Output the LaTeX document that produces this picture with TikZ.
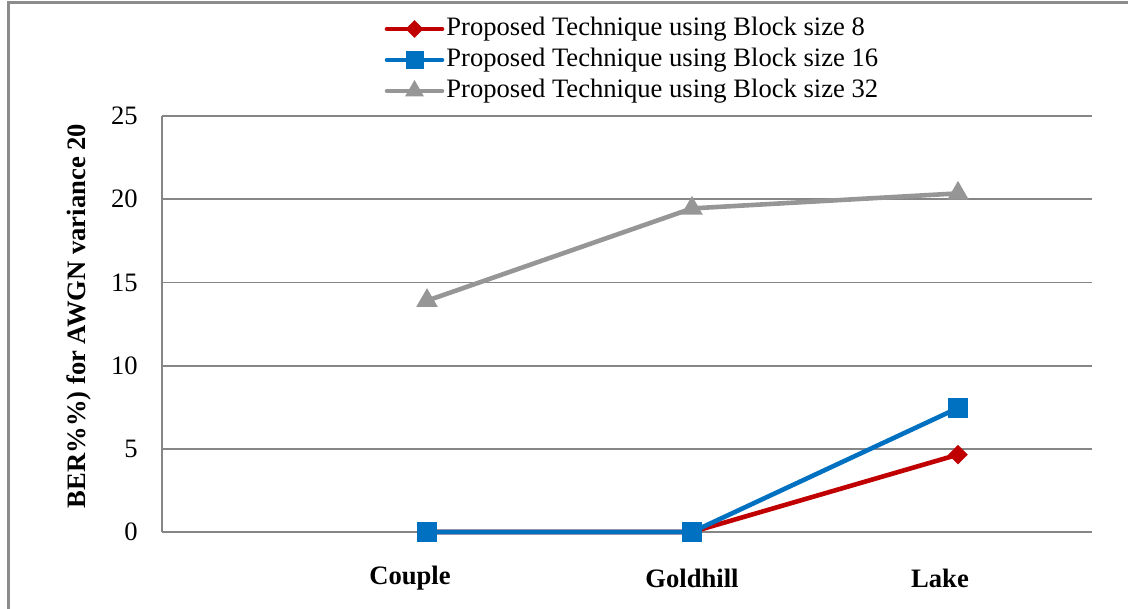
\documentclass[tikz,border=0pt]{standalone}
\usepackage{fontspec}
\setmainfont{Liberation Serif}
\usetikzlibrary{shapes.geometric}
\definecolor{serred}{RGB}{192,0,0}
\definecolor{serblue}{RGB}{0,112,192}
\definecolor{sergray}{RGB}{150,150,150}
\definecolor{gridgray}{RGB}{134,134,134}
\definecolor{framegray}{RGB}{140,140,140}
\tikzset{
  gridline/.style={gridgray, line width=0.9pt},
  serline/.style={line width=2.3pt, line join=round, line cap=round},
  mkdiamond/.style={diamond, fill=serred, inner sep=0pt, minimum size=10pt},
  mksquare/.style={rectangle, fill=serblue, inner sep=0pt, minimum size=10pt},
  mktri/.style={regular polygon, regular polygon sides=3, fill=sergray, inner sep=0pt, minimum size=12.5pt},
  legdiamond/.style={mkdiamond, minimum size=9pt},
  legsquare/.style={mksquare, minimum size=9pt},
  legtri/.style={mktri, minimum size=11pt},
  ticklabel/.style={anchor=east, inner sep=0pt},
  catlabel/.style={font=\fontsize{13.3pt}{16pt}\selectfont\bfseries},
  legtext/.style={anchor=west, inner sep=0pt},
}
\begin{document}
\begin{tikzpicture}[x=0.5pt, y=-0.5pt, font=\fontsize{13.3pt}{16pt}\selectfont]
\useasboundingbox (0,0) rectangle (1128,609);
\clip (0,0) rectangle (1128,609);

% chart frame
\draw[framegray, line width=1.5pt] (8,3) rectangle (1140,625);

% horizontal grid and value axis
\foreach \v [count=\i from 0] in {0,5,10,15,20,25} {
  \draw[gridline] (162,{532-83.2*\i}) -- (1092,{532-83.2*\i});
  \node[ticklabel] (tick\v) at (138,{532-83.2*\i}) {\v};
}
\draw[gridline] (162,116) -- (162,532);

% axis title
\node[rotate=90, font=\fontsize{13.3pt}{16pt}\selectfont\bfseries] (ytitle) at (79,316)
  {BER\%\%) for AWGN variance 20};

% category labels
\node[catlabel] (catA) at (410,578) {Couple};
\node[catlabel] (catB) at (692,578) {Goldhill};
\node[catlabel] (catC) at (940,578) {Lake};

% data points
\coordinate (r1) at (427,532);  \coordinate (r2) at (692,532);  \coordinate (r3) at (958,454.6);
\coordinate (b1) at (427,532);  \coordinate (b2) at (692,532);  \coordinate (b3) at (958,408);
\coordinate (g1) at (427,300.7); \coordinate (g2) at (692,208.4); \coordinate (g3) at (958,193.4);

% block size 8
\draw[serline, serred] (r1) -- (r2) -- (r3);
\foreach \p in {r1,r2,r3} \node[mkdiamond] (m\p) at (\p) {};
% block size 16
\draw[serline, serblue] (b1) -- (b2) -- (b3);
\foreach \p in {b1,b2,b3} \node[mksquare] (m\p) at (\p) {};
% block size 32
\draw[serline, sergray] (g1) -- (g2) -- (g3);
\foreach \p in {g1,g2,g3} \node[mktri] (m\p) at (\p) {};

% legend
\coordinate (la1) at (387,29);  \coordinate (lb1) at (442,29);
\coordinate (la2) at (387,60);  \coordinate (lb2) at (442,60);
\coordinate (la3) at (387,91);  \coordinate (lb3) at (442,91);
\draw[serline, serred] (la1) -- (lb1);
\node[legdiamond] (lm1) at (414.5,29) {};
\draw[serline, serblue] (la2) -- (lb2);
\node[legsquare] (lm2) at (414.5,60) {};
\draw[serline, sergray] (la3) -- (lb3);
\node[legtri] (lm3) at (414.5,91) {};
\node[legtext] (lt1) at (446,29) {Proposed Technique using Block size 8};
\node[legtext] (lt2) at (446,60) {Proposed Technique using Block size 16};
\node[legtext] (lt3) at (446,91) {Proposed Technique using Block size 32};
\end{tikzpicture}
\end{document}
